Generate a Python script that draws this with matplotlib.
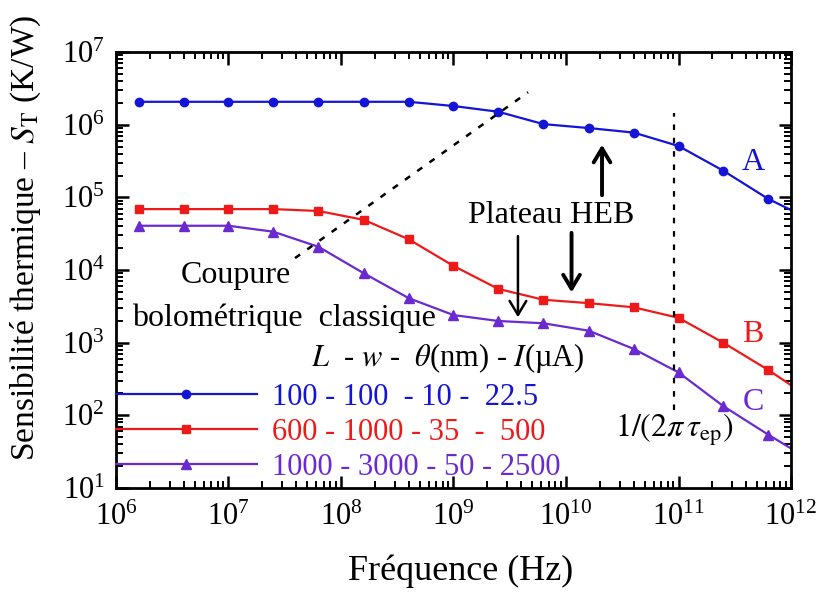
import matplotlib
matplotlib.use("Agg")
import matplotlib.pyplot as plt
from matplotlib.ticker import LogLocator, NullFormatter, FixedLocator

# --- Données ---
frequence = [1.6e6, 4e6, 1e7, 2.5e7, 6.3e7, 1.6e8, 4e8, 1e9, 2.5e9,
             6.3e9, 1.6e10, 4e10, 1e11, 2.5e11, 6.3e11, 1e12]

sens_A = [2.07e6, 2.07e6, 2.07e6, 2.07e6, 2.07e6, 2.07e6, 2.07e6, 1.81e6,
          1.51e6, 1.02e6, 9.0e5, 7.8e5, 5.1e5, 2.33e5, 9.5e4, 6.7e4]
sens_B = [6.9e4, 6.9e4, 6.9e4, 6.9e4, 6.5e4, 4.9e4, 2.65e4, 1.14e4,
          5.5e3, 3.9e3, 3.5e3, 3.07e3, 2.2e3, 1.0e3, 4.2e2, 2.6e2]
sens_C = [4.07e4, 4.07e4, 4.07e4, 3.37e4, 2.09e4, 9.0e3, 4.1e3, 2.4e3,
          1.99e3, 1.85e3, 1.46e3, 8.2e2, 3.9e2, 1.34e2, 54, 35]

ticks_x = [1e6, 1e7, 1e8, 1e9, 1e10, 1e11, 1e12]
ticks_y = [1e1, 1e2, 1e3, 1e4, 1e5, 1e6, 1e7]

legendes = ["100 - 100  - 10 -  22.5",
            "600 - 1000 - 35  -  500",
            "1000 - 3000 - 50 - 2500"]
lettres = ["A", "B", "C"]
couleurs = ["#1414d6", "#ee1a1a", "#6a2ad0"]
marqueurs = ["o", "s", "^"]

# coupure bolométrique (ligne pointillée diagonale)
coupure_x = [3.9e7, 4.6e9]
coupure_y = [1.46e4, 2.8e6]
# 1/(2 pi tau_ep)
f_ep = 9.1e10
f_ep_y = [1.2e2, 1.45e6]

plt.rcParams["font.family"] = ["Liberation Serif", "DejaVu Serif"]
plt.rcParams["mathtext.fontset"] = "stix"

fig = plt.figure(figsize=(8.18, 5.92), dpi=100)
ax = fig.add_axes([0.1418, 0.1757, 0.967 - 0.1418, 0.912 - 0.1757])

lignes = []
for y, c, m in zip([sens_A, sens_B, sens_C], couleurs, marqueurs):
    ms = 6.5 if m == "^" else 6
    l, = ax.plot(frequence, y, color=c, marker=m, markersize=ms, lw=1.6,
                 markevery=list(range(len(frequence) - 1)))
    lignes.append(l)

ax.plot(coupure_x, coupure_y, color="black", lw=1.8, ls=(0, (2.5, 3.5)))
ax.plot([f_ep, f_ep], f_ep_y, color="black", lw=1.6, ls=(0, (2.5, 3.5)))

ax.set_xscale("log")
ax.set_yscale("log")
ax.set_xlim(1e6, 1e12)
ax.set_ylim(1e1, 1e7)

for axe, ticks in [(ax.xaxis, ticks_x), (ax.yaxis, ticks_y)]:
    axe.set_major_locator(FixedLocator(ticks))
    axe.set_minor_locator(LogLocator(base=10, subs=range(2, 10), numticks=20))
    axe.set_minor_formatter(NullFormatter())

ax.tick_params(which="both", direction="in", top=True, right=True)
ax.tick_params(which="major", length=9, width=1.8, labelsize=22)
ax.tick_params(which="minor", length=5, width=1.4)
ax.tick_params(axis="x", which="major", pad=11)
ax.tick_params(axis="y", which="major", pad=8)
for s in ax.spines.values():
    s.set_linewidth(2)

ax.set_xlabel("Fréquence (Hz)", fontsize=26)
ax.xaxis.set_label_coords(0.51, -0.152)
ax.set_ylabel(r"Sensibilité thermique – $S_{\mathrm{T}}$ (K/W)", fontsize=24)
ax.yaxis.set_label_coords(-0.108, 0.575)

# lettres A, B, C
pos_lettres = [(4.6e11, 3.0e5), (4.6e11, 1.28e3), (4.6e11, 1.48e2)]
for t, (x, y), c in zip(lettres, pos_lettres, couleurs):
    ax.text(x, y, t, color=c, fontsize=23, ha="center", va="center")

ax.text(1.17e7, 8.3e3, "Coupure", fontsize=23, ha="center", va="center")
ax.text(3.1e7, 2.19e3, "bolométrique  classique", fontsize=23, ha="center", va="center")
ax.text(7.4e9, 5.7e4, "Plateau HEB", fontsize=23, ha="center", va="center")
ax.text(f_ep, 63, r"$1/(2\pi\,\tau_{\mathrm{ep}})$", fontsize=23, ha="center", va="center")
ax.text(8.9e8, 6.15e2, r"$L$  - $w$ -  $\theta$(nm) - $I$(µA)", fontsize=22,
        ha="center", va="center")

# flèches
fleche = dict(arrowstyle="->,head_length=1.0,head_width=0.6", color="black", lw=2.8)
ax.annotate("", xy=(2.09e10, 5.8e5), xytext=(2.09e10, 9.8e4), arrowprops=fleche)
ax.annotate("", xy=(1.12e10, 4.5e3), xytext=(1.12e10, 3.55e4), arrowprops=fleche)
fleche2 = dict(arrowstyle="->,head_length=1.0,head_width=0.6", color="black", lw=1.8)
ax.annotate("", xy=(3.74e9, 2.05e3), xytext=(3.74e9, 3.2e4), arrowprops=fleche2)

leg = ax.legend(lignes, legendes, loc="center left", bbox_to_anchor=(0.0, 0.128),
                frameon=False, fontsize=22, handlelength=4.6, handletextpad=0.5,
                borderpad=0, borderaxespad=0, labelspacing=0.2)
for txt, c in zip(leg.get_texts(), couleurs):
    txt.set_color(c)

fig.savefig("out.png", dpi=100)
